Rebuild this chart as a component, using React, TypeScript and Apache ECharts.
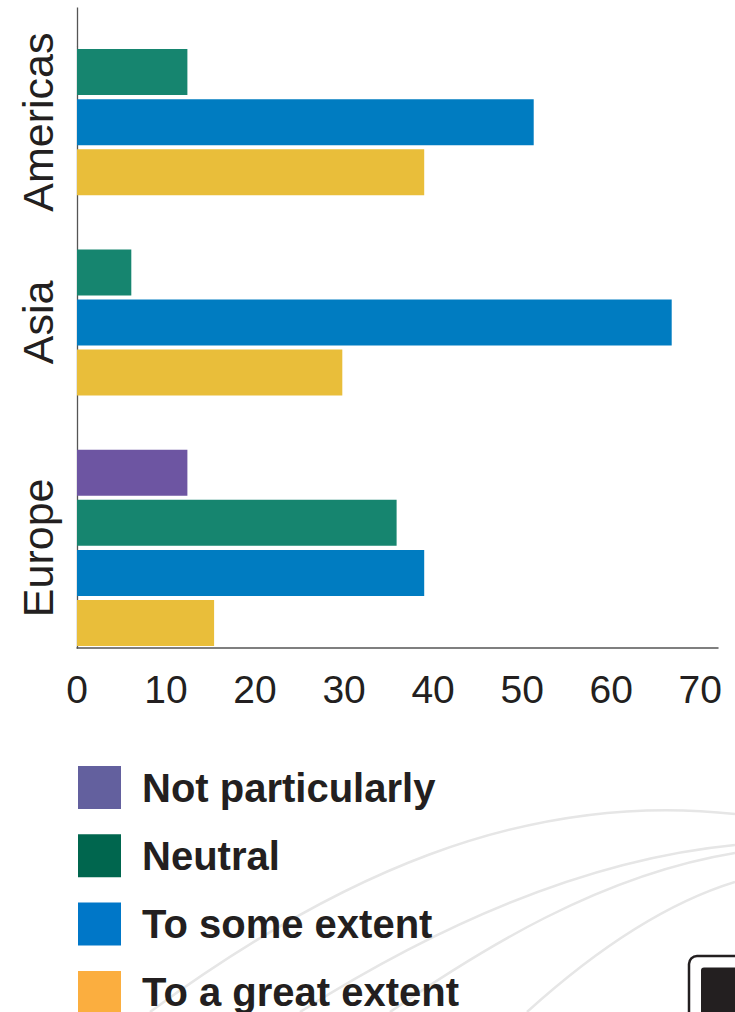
import React, { useEffect, useRef } from "react";
import * as echarts from "echarts";

// Survey regions, top to bottom
const regions = ["Americas", "Asia", "Europe"];

// Response categories (legend order)
const responses = ["Not particularly", "Neutral", "To some extent", "To a great extent"];

// Share of respondents per region (null = not reported)
const notParticularly: (number | null)[] = [null, null, 12.4];
const neutral: (number | null)[] = [12.4, 6.1, 35.9];
const someExtent: (number | null)[] = [51.3, 66.8, 39.0];
const greatExtent: (number | null)[] = [39.0, 29.8, 15.4];

// Value axis ticks
const xTicks = [0, 10, 20, 30, 40, 50, 60, 70];

const seriesValues = [notParticularly, neutral, someExtent, greatExtent];
const barColors = ["#6D55A2", "#16856F", "#007CC1", "#E9BE3A"];
const legendColors = ["#63609E", "#00664E", "#0077C8", "#FBAE3F"];

const FONT = "'Liberation Sans', Arial, Helvetica, sans-serif";
const INK = "#231F20";

type Row = { key: string; region: number; response: number };

// One row per reported bar, with an empty spacer row between regions
function buildRows(): Row[] {
  const rows: Row[] = [];
  regions.forEach((region, ri) => {
    if (ri > 0) rows.push({ key: `gap-${ri}`, region: -1, response: -1 });
    responses.forEach((resp, si) => {
      if (seriesValues[si][ri] != null) {
        rows.push({ key: `${region}|${resp}`, region: ri, response: si });
      }
    });
  });
  return rows;
}

export default function App() {
  const ref = useRef<HTMLDivElement>(null);

  useEffect(() => {
    if (!ref.current) return;
    const chart = echarts.init(ref.current, null, { renderer: "svg" });
    const rows = buildRows();
    const rowKeys = rows.map((r) => r.key);

    const series = responses.map((name, si) => ({
      name,
      type: "bar",
      barWidth: 46,
      barGap: "-100%",
      itemStyle: { color: barColors[si] },
      data: rows.map((r) =>
        r.response === si && r.region >= 0 ? (seriesValues[si][r.region] as number) : "-"
      ),
    }));

    chart.setOption({
      animation: false,
      backgroundColor: "#ffffff",
      textStyle: { fontFamily: FONT },
      grid: { left: 77, right: 17, top: 47, bottom: 364, containLabel: false },
      xAxis: {
        type: "value",
        min: 0,
        max: 72,
        interval: 10,
        splitLine: { show: false },
        axisTick: { show: false },
        axisLine: { show: true, lineStyle: { color: "#555555", width: 1.5 } },
        axisLabel: {
          fontSize: 39,
          color: INK,
          fontFamily: FONT,
          margin: 22,
          showMaxLabel: false,
          formatter: (v: number) => (xTicks.includes(v) ? String(v) : ""),
        },
      },
      yAxis: {
        type: "category",
        inverse: true,
        data: rowKeys,
        axisTick: { show: false },
        axisLabel: { show: false },
        axisLine: { show: true, lineStyle: { color: "#555555", width: 1.3 } },
        splitLine: { show: false },
      },
      legend: {
        orient: "vertical",
        left: 78,
        top: 766,
        height: 300,
        padding: 0,
        itemWidth: 43,
        itemHeight: 43,
        itemGap: 25.3,
        icon: "rect",
        selectedMode: false,
        textStyle: {
          fontSize: 40,
          fontWeight: "bold",
          color: INK,
          fontFamily: FONT,
          padding: [0, 0, 0, 16],
        },
        data: responses.map((name, i) => ({ name, itemStyle: { color: legendColors[i] } })),
      },
      series,
    });

    // Region labels centred on each region's block of bars
    const regionLabels = regions.map((region, ri) => {
      const idx = rows.map((r, i) => (r.region === ri ? i : -1)).filter((i) => i >= 0);
      const y0 = chart.convertToPixel({ yAxisIndex: 0 }, rowKeys[idx[0]]) as number;
      const y1 = chart.convertToPixel({ yAxisIndex: 0 }, rowKeys[idx[idx.length - 1]]) as number;
      return {
        type: "text",
        x: 37.5,
        y: (y0 + y1) / 2,
        rotation: Math.PI / 2,
        style: {
          text: region,
          fontSize: 43,
          fontFamily: FONT,
          fill: INK,
          align: "center",
          verticalAlign: "middle",
        },
      };
    });

    const axisX = chart.convertToPixel({ xAxisIndex: 0 }, 0) as number;
    const lineX = Math.round(axisX) + 0.5;

    const arcStyle = { stroke: "#E6E6E6", lineWidth: 2.5, fill: "none" };
    const decor = [
      // faint swoosh lines behind the legend
      { type: "bezierCurve", z: -10, shape: { x1: 150, y1: 1012, cpx1: 330, cpy1: 880, cpx2: 520, cpy2: 790, x2: 735, y2: 814 }, style: arcStyle },
      { type: "bezierCurve", z: -10, shape: { x1: 300, y1: 1012, cpx1: 430, cpy1: 930, cpx2: 580, cpy2: 860, x2: 735, y2: 845 }, style: arcStyle },
      { type: "bezierCurve", z: -10, shape: { x1: 390, y1: 1012, cpx1: 480, cpy1: 950, cpx2: 600, cpy2: 875, x2: 735, y2: 853 }, style: arcStyle },
      { type: "bezierCurve", z: -10, shape: { x1: 527, y1: 1012, cpx1: 590, cpy1: 955, cpx2: 660, cpy2: 905, x2: 735, y2: 882 }, style: arcStyle },
      // corner badge
      { type: "rect", shape: { x: 689, y: 956, width: 90, height: 90, r: 8 }, style: { fill: "#ffffff", stroke: INK, lineWidth: 2.5 } },
      { type: "rect", shape: { x: 701, y: 967.5, width: 70, height: 70, r: 3 }, style: { fill: INK } },
      // upper extension of the category axis line
      { type: "line", shape: { x1: lineX, y1: 7.5, x2: lineX, y2: 47 }, style: { stroke: "#555555", lineWidth: 1.3 } },
    ];

    chart.setOption({ graphic: [...decor, ...regionLabels] });

    return () => chart.dispose();
  }, []);

  return (
    <div
      ref={ref}
      style={{ position: "fixed", left: 0, top: 0, width: 735, height: 1012 }}
    />
  );
}
